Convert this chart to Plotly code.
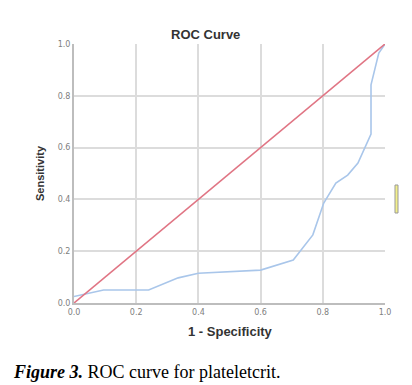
import plotly.graph_objects as go

# ROC curve points (1 - specificity, sensitivity)
fpr = [0.0, 0.095, 0.24, 0.335, 0.40, 0.60, 0.705, 0.768, 0.803, 0.842, 0.88, 0.913, 0.955, 0.955, 0.98, 1.0]
tpr = [0.025, 0.05, 0.05, 0.097, 0.115, 0.127, 0.166, 0.263, 0.386, 0.463, 0.494, 0.54, 0.652, 0.842, 0.965, 1.0]
ref_x = [0.0, 1.0]
ref_y = [0.0, 1.0]
ticks = [0.0, 0.2, 0.4, 0.6, 0.8, 1.0]
tick_labels = ["0.0", "0.2", "0.4", "0.6", "0.8", "1.0"]

# The page body has an 8px margin, so the figure is drawn 8px in from the window corner.
OFF = 8
W, H = 412 - OFF, 385 - OFF
L, R, T, B = 74 - OFF, 385 - OFF, 44 - OFF, 303 - OFF
PW, PH = R - L, B - T

def px(x):
    return (x - OFF - L) / PW

def py(y):
    return (B - (y - OFF)) / PH

fig = go.Figure()
fig.add_trace(go.Scatter(x=fpr, y=tpr, mode="lines",
                         line=dict(color="#a9c6ea", width=1.6), showlegend=False))
fig.add_trace(go.Scatter(x=ref_x, y=ref_y, mode="lines",
                         line=dict(color="#e07584", width=1.6), showlegend=False))

axis_common = dict(
    range=[0, 1], tickvals=ticks, ticktext=tick_labels,
    showgrid=True, gridcolor="#dcdcdc", gridwidth=1.5,
    zeroline=False, showline=True, linecolor="#bdbdbd", linewidth=2,
    tickfont=dict(family="DejaVu Sans", size=8, color="#808080"),
    ticks="", fixedrange=True, automargin=False,
)

title_font = dict(family="Liberation Sans", size=13, color="#333333")

fig.update_layout(
    width=W, height=H,
    margin=dict(l=L, r=W - R, t=T, b=H - B, autoexpand=False),
    paper_bgcolor="white", plot_bgcolor="white",
    xaxis=axis_common,
    yaxis=axis_common,
    shapes=[dict(type="rect", xref="paper", yref="paper",
                 x0=px(395), x1=px(398), y0=py(213), y1=py(185),
                 fillcolor="#f3f08a", line=dict(color="#999999", width=1))],
    annotations=[
        dict(text="<b>ROC Curve</b>", xref="paper", yref="paper", x=px(205), y=py(34),
             xanchor="center", yanchor="middle", showarrow=False, font=title_font),
        dict(text="<b>1 - Specificity</b>", xref="paper", yref="paper", x=px(230), y=py(331),
             xanchor="center", yanchor="middle", showarrow=False, font=title_font),
        dict(text="<b>Sensitivity</b>", xref="paper", yref="paper", x=px(40), y=py(173),
             xanchor="center", yanchor="middle", showarrow=False, textangle=-90,
             font=dict(family="Liberation Sans", size=11, color="#333333")),
        dict(text="<b><i>Figure 3.</i></b> ROC curve for plateletcrit.",
             xref="paper", yref="paper", x=px(11), y=py(372),
             xanchor="left", yanchor="middle", showarrow=False,
             font=dict(family="Liberation Serif", size=18, color="#000000")),
    ],
)

fig.write_html("out.html")
